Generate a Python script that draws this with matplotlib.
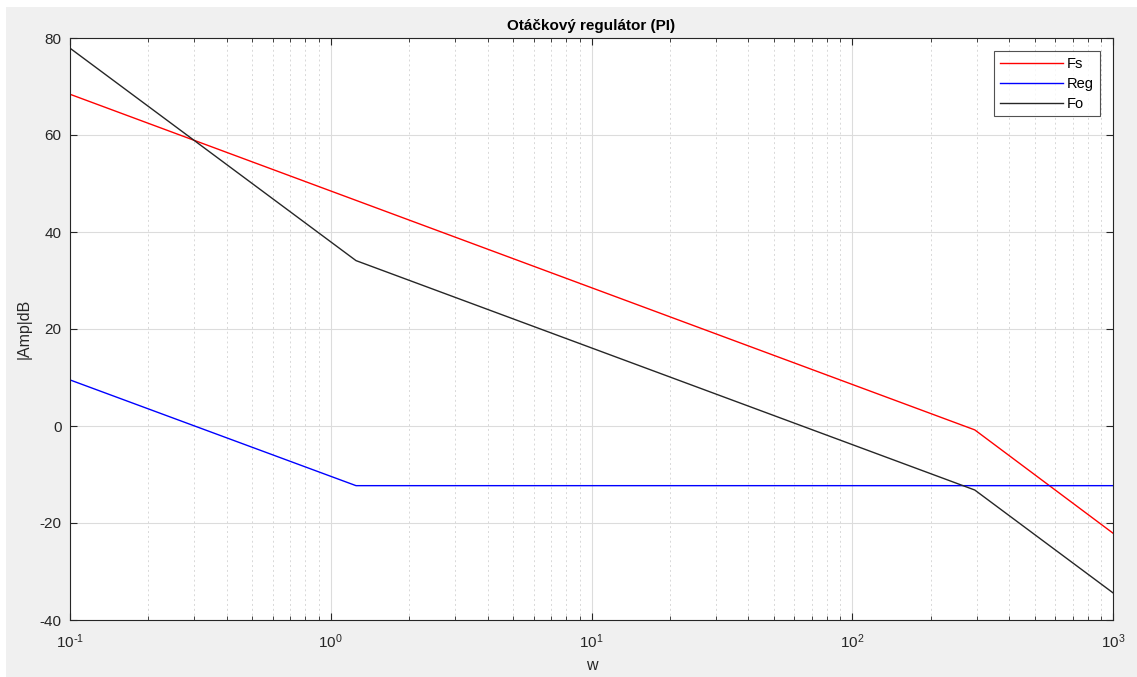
import matplotlib
matplotlib.use("Agg")
import matplotlib.pyplot as plt
import numpy as np
from matplotlib.ticker import LogLocator, NullFormatter, MultipleLocator, FuncFormatter
from matplotlib.patches import Rectangle

plt.rcParams['font.family'] = ['Liberation Sans', 'DejaVu Sans']
plt.rcParams['axes.unicode_minus'] = False
plt.rcParams['mathtext.default'] = 'regular'

# Data (asymptotic Bode magnitudes, breakpoints)
w_fs = [0.1, 295, 1000]
fs_db = [68.4, -0.8, -22.1]
w_reg = [0.1, 1.25, 1000]
reg_db = [9.5, -12.3, -12.3]
w_fo = [0.1, 1.25, 295, 1000]
fo_db = [77.9, 34.1, -13.2, -34.4]

title = "Otáčkový regulátor (PI)"
xlabel = "w"
ylabel = "|Amp|dB"
legend_labels = ["Fs", "Reg", "Fo"]

dark = (0.15, 0.15, 0.15)
W, H = 1137, 677
fig = plt.figure(figsize=(W/100, H/100), dpi=100, facecolor='white')
fig.patches.append(Rectangle((6/W, 0), 1 - 6/W, 1 - 7/H, transform=fig.transFigure,
                             facecolor='#f0f0f0', edgecolor='none', zorder=-10))
ax = fig.add_axes([70/W, 1-620/H, (1113-70)/W, (620-38)/H])
ax.set_facecolor('white')

ax.plot(w_fs, fs_db, color='#ff0000', lw=1.0, label=legend_labels[0])
ax.plot(w_reg, reg_db, color='#0000ff', lw=1.0, label=legend_labels[1])
ax.plot(w_fo, fo_db, color=dark, lw=1.0, label=legend_labels[2])

ax.set_xscale('log')
ax.set_xlim(0.1, 1000)
ax.set_ylim(-40, 80)
ax.yaxis.set_major_locator(MultipleLocator(20))
ax.xaxis.set_major_locator(LogLocator(base=10, numticks=10))
ax.xaxis.set_minor_locator(LogLocator(base=10, subs=range(2, 10), numticks=100))
ax.xaxis.set_minor_formatter(NullFormatter())


def log_fmt(v, pos):
    e = int(round(np.log10(v)))
    if e < 0:
        return r'$10^{\text{-}%d}$' % (-e)
    return r'$10^{%d}$' % e


ax.xaxis.set_major_formatter(FuncFormatter(log_fmt))

ax.grid(True, which='major', axis='both', color='#dcdcdc', lw=0.8, ls='-')
ax.grid(True, which='minor', axis='x', color='#d8d8d8', lw=0.7, ls=(0, (2, 3)))
ax.set_axisbelow(True)

ax.tick_params(which='both', direction='in', top=True, right=True, colors=dark,
               labelsize=11, labelcolor=dark)
ax.tick_params(which='major', length=5)
ax.tick_params(which='minor', length=3)
ax.tick_params(axis='x', which='both', pad=9)
ax.tick_params(axis='y', which='both', pad=6)
for s in ax.spines.values():
    s.set_color(dark)
    s.set_linewidth(0.8)

ax.set_title(title, fontsize=11, fontweight='bold', color='black', pad=6)
ax.set_xlabel(xlabel, fontsize=11.5, color=dark, labelpad=5)
ax.set_ylabel(ylabel, fontsize=11.5, color=dark, labelpad=6)

leg = ax.legend(loc='upper right', fontsize=10.5, frameon=True, fancybox=False,
                edgecolor=dark, handlelength=4.3, borderaxespad=0.9,
                labelspacing=0.4, handletextpad=0.3, borderpad=0.4)
leg.get_frame().set_linewidth(0.8)

fig.savefig('out.png', dpi=100, facecolor=fig.get_facecolor())
